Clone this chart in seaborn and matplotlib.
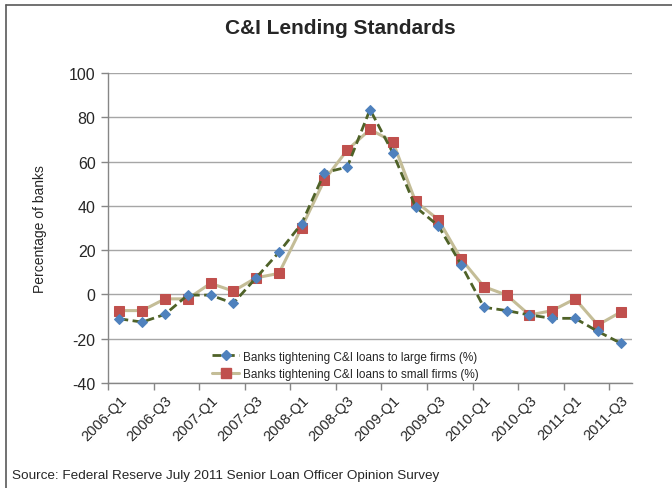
import matplotlib
matplotlib.use("Agg")
import matplotlib.pyplot as plt
from matplotlib.lines import Line2D
import seaborn as sns
import pandas as pd

quarters = [f"{y}-Q{q}" for y in range(2006, 2012) for q in range(1, 5)][:23]
large_firms = [-11, -12.5, -9, -0.3, -0.3, -4, 7.5, 19, 32, 55, 57.5, 83.5,
               64, 39.5, 31, 13.5, -5.8, -7.3, -9.3, -10.8, -10.8, -16.7, -22]
small_firms = [-7.3, -7.3, -2, -2, 5, 1.5, 7.5, 9.5, 30.2, 51.7, 65.2, 74.5,
               69, 42, 33.8, 16, 3.5, -0.3, -9.3, -7.3, -2, -13.8, -8]
label_large = "Banks tightening C&I loans to large firms (%)"
label_small = "Banks tightening C&I loans to small firms (%)"

df = pd.DataFrame({
    "idx": list(range(len(quarters))) * 2,
    "value": large_firms + small_firms,
    "series": [label_large] * len(quarters) + [label_small] * len(quarters),
})

sns.set_theme(style="white")
plt.rcParams["font.family"] = ["Liberation Sans", "DejaVu Sans"]
plt.rcParams["axes.unicode_minus"] = False

fig = plt.figure(figsize=(6.72, 4.89), dpi=100)
ax = fig.add_axes([108 / 672, 1 - 384 / 489, 524 / 672, 310 / 489])

small_df = df[df.series == label_small]
large_df = df[df.series == label_large]
sns.lineplot(data=small_df, x="idx", y="value", ax=ax, color="#C4BD97",
             linewidth=2.2, marker="s", markersize=7, markerfacecolor="#C0504D",
             markeredgecolor="#C0504D", legend=False, zorder=3)
sns.lineplot(data=large_df, x="idx", y="value", ax=ax, color="#4F6228",
             linewidth=2.0, linestyle=(0, (3.2, 1.6)), marker="D", markersize=5,
             markerfacecolor="#4F81BD", markeredgecolor="#4F81BD",
             legend=False, zorder=4)

ax.set_xlim(-0.5, len(quarters) - 0.5)
ax.set_ylim(-40, 100)
ax.set_yticks(range(-40, 101, 20))
ax.yaxis.grid(True, color="#A6A6A6", linewidth=1.0)
ax.set_axisbelow(True)

ax.set_xticks(range(0, len(quarters), 2))
ax.set_xticklabels(quarters[::2], rotation=45, ha="right",
                   rotation_mode="anchor", fontsize=10.5)
ax.set_xticks([i - 0.5 for i in range(0, len(quarters), 2)], minor=True)
ax.tick_params(axis="x", which="major", length=0, pad=7)
ax.tick_params(axis="x", which="minor", length=5, color="#868686", width=1,
               direction="out", bottom=True)
ax.tick_params(axis="y", length=5, color="#868686", width=1, direction="out",
               left=True, labelsize=11.5, pad=4)

for side in ("top", "right"):
    ax.spines[side].set_visible(False)
for side in ("left", "bottom"):
    ax.spines[side].set_color("#868686")
    ax.spines[side].set_linewidth(1.0)

ax.set_xlabel("")
ax.set_ylabel("Percentage of banks", fontsize=10, labelpad=16)

handles = [
    Line2D([], [], color="#4F6228", linewidth=2.0, linestyle=(0, (3.2, 1.6)),
           marker="D", markersize=5, markerfacecolor="#4F81BD",
           markeredgecolor="#4F81BD"),
    Line2D([], [], color="#C4BD97", linewidth=2.2, marker="s", markersize=7,
           markerfacecolor="#C0504D", markeredgecolor="#C0504D"),
]
ax.legend(handles, [label_large, label_small], loc="upper left",
          bbox_to_anchor=(0.19, 0.12), frameon=False, fontsize=8.5,
          handlelength=2.3, handletextpad=0.3, labelspacing=0.45,
          borderaxespad=0)

fig.text(340 / 672, 1 - 28 / 489, "C&I Lending Standards", ha="center",
         va="center", fontsize=15, fontweight="bold")
fig.text(12 / 672, 1 - 476 / 489,
         "Source: Federal Reserve July 2011 Senior Loan Officer Opinion Survey",
         ha="left", va="center", fontsize=9.7, color="#262626")

# outer chart frame (top and left edges)
fig.add_artist(Line2D([6 / 672, 1], [1 - 6 / 489, 1 - 6 / 489],
                      transform=fig.transFigure, color="#595959", linewidth=1.2))
fig.add_artist(Line2D([6 / 672, 6 / 672], [0, 1 - 6 / 489],
                      transform=fig.transFigure, color="#595959", linewidth=1.2))

fig.savefig("out.png", dpi=100)
